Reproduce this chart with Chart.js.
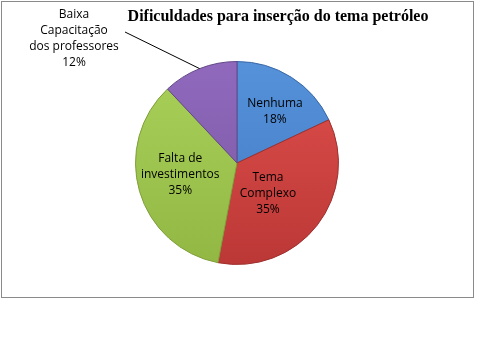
<!DOCTYPE html>
<html>
<head>
<meta charset="utf-8">
<script src="https://cdn.jsdelivr.net/npm/chart.js@4"></script>
<style>
  html, body { margin: 0; padding: 0; background: #fff; }
  #wrap { width: 502px; height: 359px; }
</style>
</head>
<body>
<div id="wrap"><canvas id="pieChart" width="502" height="359"></canvas></div>
<script>
// ===== Data =====
const titleText = 'Dificuldades para inserção do tema petróleo';
const categories = ['Nenhuma', 'Tema Complexo', 'Falta de investimentos', 'Baixa Capacitação dos professores'];
const labelLines = [['Nenhuma'], ['Tema', 'Complexo'], ['Falta de', 'investimentos'], ['Baixa', 'Capacitação', 'dos professores']];
const percents = [18, 35, 35, 12];
const baseColors = ['#4279c2', '#bb3836', '#92b843', '#7857a0'];
const lightColors = ['#5592da', '#df4f4c', '#a9d15a', '#9069bd'];
const edgeColors = ['#3a68a6', '#9e302e', '#7f9f3a', '#634888'];

// label placement inside the slices: radius factor and angle shift (deg)
const labelRadius = [0.63, 0.43, 0.57];
const labelShift = [4, 7, 5];

// ===== Helpers =====
function sliceFill(context) {
  const i = context.dataIndex;
  const area = context.chart.chartArea;
  if (!area) return baseColors[i];
  const g = context.chart.ctx.createLinearGradient(0, area.top, 0, area.bottom);
  g.addColorStop(0, lightColors[i]);
  g.addColorStop(1, baseColors[i]);
  return g;
}

const decorPlugin = {
  id: 'decor',
  beforeDraw(chart) {
    const ctx = chart.ctx;
    ctx.save();
    ctx.fillStyle = '#fff';
    ctx.fillRect(0, 0, chart.width, chart.height);
    ctx.strokeStyle = '#8a8a8a';
    ctx.lineWidth = 1;
    ctx.strokeRect(1.5, 1.5, 472, 296);
    // title
    ctx.fillStyle = '#000';
    ctx.font = 'bold 16px "Liberation Serif", serif';
    ctx.textAlign = 'center';
    ctx.textBaseline = 'middle';
    ctx.fillText(titleText, 278, 17);
    ctx.restore();
  },
  afterDatasetsDraw(chart) {
    const ctx = chart.ctx;
    const meta = chart.getDatasetMeta(0);
    ctx.save();
    ctx.font = '12px "Open Sans", sans-serif';
    ctx.textAlign = 'center';
    ctx.textBaseline = 'middle';
    const lineH = 16;
    meta.data.forEach((arc, i) => {
      const p = arc.getProps(['x', 'y', 'startAngle', 'endAngle', 'outerRadius'], true);
      const mid = (p.startAngle + p.endAngle) / 2;
      const lines = labelLines[i].concat([percents[i] + '%']);
      let cx, cy;
      if (i === 3) {
        // outside label with leader line
        const ex = p.x + Math.cos(mid) * p.outerRadius;
        const ey = p.y + Math.sin(mid) * p.outerRadius;
        const lx = p.x - 112, ly = p.y - 131;
        ctx.strokeStyle = '#000';
        ctx.lineWidth = 1;
        ctx.beginPath();
        ctx.moveTo(ex, ey);
        ctx.lineTo(lx, ly);
        ctx.stroke();
        cx = p.x - 163; cy = p.y - 124;
      } else {
        const a = mid + labelShift[i] * Math.PI / 180;
        const r = p.outerRadius * labelRadius[i];
        cx = p.x + Math.cos(a) * r;
        cy = p.y + Math.sin(a) * r;
      }
      ctx.fillStyle = '#000';
      const top = cy - (lines.length - 1) * lineH / 2;
      lines.forEach((t, k) => ctx.fillText(t, cx, top + k * lineH));
    });
    ctx.restore();
  }
};

// ===== Chart.js Setup =====
const ctx = document.getElementById('pieChart').getContext('2d');
const pieChart = new Chart(ctx, {
  type: 'pie',
  data: {
    labels: categories,
    datasets: [{
      data: percents,
      backgroundColor: sliceFill,
      borderColor: edgeColors,
      borderWidth: 1
    }]
  },
  options: {
    responsive: false,
    animation: false,
    layout: { padding: { left: 135, right: 163, top: 61, bottom: 94 } },
    plugins: {
      legend: { display: false },
      tooltip: { enabled: false },
      title: { display: false }
    }
  },
  plugins: [decorPlugin]
});
</script>
</body>
</html>
